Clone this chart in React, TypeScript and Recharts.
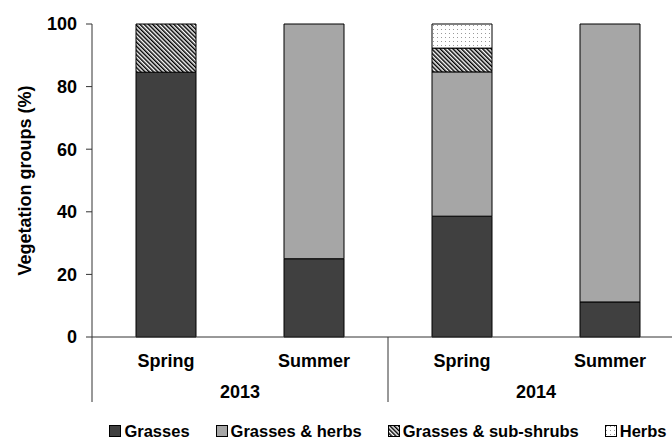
import { BarChart, Bar, XAxis, YAxis, Legend } from 'recharts';

const seasons = ['Spring', 'Summer', 'Spring', 'Summer'];
const years = ['2013', '2013', '2014', '2014'];
const grasses = [84.6, 25, 38.6, 11.2];
const grassesHerbs = [0, 75, 46.1, 88.8];
const subShrubs = [15.4, 0, 7.6, 0];
const herbs = [0, 0, 7.7, 0];
const yTicks = [0, 20, 40, 60, 80, 100];

const data = seasons.map((season, i) => ({
  season,
  year: years[i],
  grasses: grasses[i],
  grassesHerbs: grassesHerbs[i],
  subShrubs: subShrubs[i],
  herbs: herbs[i],
}));

const FONT = '"Liberation Sans", Arial, sans-serif';
const AXIS = '#333';

const series = [
  { key: 'grasses', name: 'Grasses', fill: '#404040' },
  { key: 'grassesHerbs', name: 'Grasses & herbs', fill: '#a6a6a6' },
  { key: 'subShrubs', name: 'Grasses & sub-shrubs', fill: 'url(#hatch)' },
  { key: 'herbs', name: 'Herbs', fill: 'url(#dots)' },
];

const tickStyle = { fontSize: 18, fontWeight: 'bold', fill: '#000', fontFamily: FONT };

function YearTick(props: any) {
  const { x, y, index, payload } = props;
  const half = payload && payload.offset ? payload.offset : 74;
  const first = index === 0 || years[index] !== years[index - 1];
  if (!first) return <g />;
  return (
    <g>
      <line x1={x - half} x2={x - half} y1={y - 30} y2={y + 35} stroke={AXIS} strokeWidth={1} />
      <text
        x={x + half}
        y={y + 25}
        dy="0.35em"
        textAnchor="middle"
        style={tickStyle}
      >
        {payload.value}
      </text>
    </g>
  );
}

function YLabel(props: any) {
  const { viewBox } = props;
  const cx = viewBox.x + 25;
  const cy = viewBox.y + viewBox.height / 2;
  return (
    <text
      x={cx}
      y={cy}
      transform={`rotate(-90, ${cx}, ${cy})`}
      textAnchor="middle"
      dominantBaseline="central"
      style={tickStyle}
    >
      Vegetation groups (%)
    </text>
  );
}

function LegendContent() {
  return (
    <div
      style={{
        display: 'flex',
        justifyContent: 'center',
        gap: 26,
        height: 32,
        boxSizing: 'border-box',
        paddingTop: 15,
        lineHeight: '18px',
        fontFamily: FONT,
        fontWeight: 'bold',
        fontSize: 16.5,
        color: '#000',
      }}
    >
      {series.map((s) => (
        <div key={s.key} style={{ display: 'flex', alignItems: 'center', gap: 3 }}>
          <svg width={12} height={12}>
            <rect x={0.5} y={0.5} width={11} height={11} fill={s.fill} stroke="#000" strokeWidth={1} />
          </svg>
          <span>{s.name}</span>
        </div>
      ))}
    </div>
  );
}

export default function App() {
  return (
    <div style={{ position: 'fixed', left: 0, top: 0, width: 672, height: 439, overflow: 'hidden', background: '#fff' }}>
      <BarChart
        width={700}
        height={439}
        data={data}
        margin={{ top: 24, right: 16, left: 0, bottom: 0 }}
        barSize={60}
      >
        <defs>
          <pattern id="hatch" patternUnits="userSpaceOnUse" width={3} height={3} patternTransform="rotate(-45)">
            <rect width={3} height={3} fill="#fff" />
            <rect x={0} y={0} width={1.5} height={3} fill="#000" />
          </pattern>
          <pattern id="dots" patternUnits="userSpaceOnUse" width={4} height={4}>
            <rect width={4} height={4} fill="#fff" />
            <rect x={1} y={1} width={1} height={1} fill="#999" />
          </pattern>
        </defs>
        <YAxis
          width={92}
          domain={[0, 100]}
          ticks={yTicks}
          tickSize={6}
          tickMargin={9}
          axisLine={{ stroke: AXIS }}
          tickLine={{ stroke: AXIS }}
          tick={tickStyle}
          label={<YLabel />}
        />
        <XAxis
          dataKey="season"
          height={30}
          tickSize={0}
          tickMargin={17}
          tickLine={false}
          axisLine={{ stroke: AXIS }}
          tick={tickStyle}
          interval={0}
        />
        <XAxis
          xAxisId="year"
          dataKey="year"
          height={40}
          tickSize={0}
          tickMargin={0}
          tickLine={false}
          axisLine={false}
          tick={<YearTick />}
          interval={0}
        />
        <Legend
          verticalAlign="bottom"
          content={<LegendContent />}
          wrapperStyle={{ left: 92, width: 592, height: 32 }}
        />
        {series.map((s) => (
          <Bar
            key={s.key}
            dataKey={s.key}
            name={s.name}
            stackId="a"
            fill={s.fill}
            stroke="#000"
            strokeWidth={1}
            isAnimationActive={false}
          />
        ))}
      </BarChart>
    </div>
  );
}
